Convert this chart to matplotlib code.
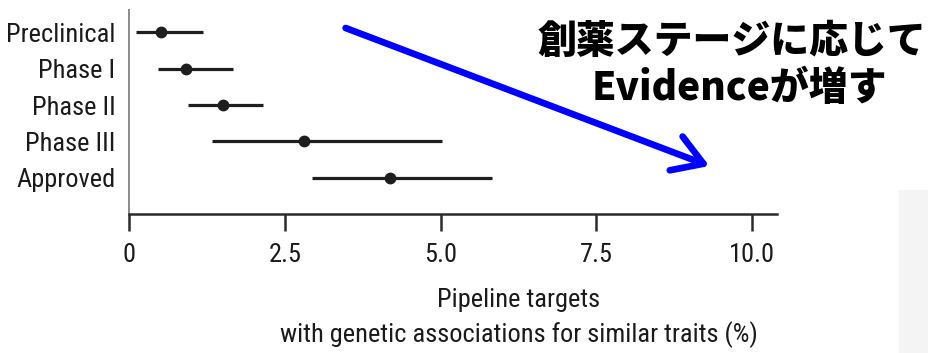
import matplotlib
matplotlib.use("Agg")
import matplotlib.pyplot as plt
from matplotlib.patches import Rectangle, FancyArrowPatch

# Pipeline stages and proportion of targets with genetic support (%)
stages = ["Preclinical", "Phase I", "Phase II", "Phase III", "Approved"]
estimate = [0.50, 0.90, 1.50, 2.80, 4.19]
ci_low = [0.10, 0.45, 0.94, 1.32, 2.93]
ci_high = [1.18, 1.67, 2.15, 5.02, 5.83]
xticks = [0, 2.5, 5.0, 7.5, 10.0]
xtick_labels = ["0", "2.5", "5.0", "7.5", "10.0"]

plt.rcParams["font.family"] = ["Roboto Condensed", "DejaVu Sans"]

W, H = 929, 353
fig = plt.figure(figsize=(W / 100, H / 100), dpi=100)

# light panel at the right edge
fig.patches.append(Rectangle((899 / W, 0), 30 / W, (353 - 190) / H,
                             transform=fig.transFigure, color="#f4f4f4", zorder=0))

ax = fig.add_axes([129.5 / W, (353 - 214.3) / H, (776.7 - 129.5) / W, (214.3 - 10) / H])
ax.set_facecolor("none")

ypos = [5, 4, 3, 2, 1]
ink = "#1e1e1e"
ax.hlines(ypos, ci_low, ci_high, color=ink, lw=2.3, zorder=2)
ax.plot(estimate, ypos, "o", color=ink, ms=7.5, zorder=3)

ax.set_xlim(0, 10.4)
ax.set_ylim(0, 5.61)
ax.set_yticks(ypos)
ax.set_yticklabels(stages)
ax.set_xticks(xticks)
ax.set_xticklabels(xtick_labels)

for s in ["top", "right"]:
    ax.spines[s].set_visible(False)
ax.spines["left"].set_color("#8a8a8a")
ax.spines["left"].set_linewidth(1.4)
ax.spines["bottom"].set_color("#2a2a2a")
ax.spines["bottom"].set_linewidth(1.8)

txt = "#1a1a1a"
fs = 19
ax.tick_params(axis="y", length=0, pad=10, labelsize=fs, labelcolor=txt)
ax.tick_params(axis="x", length=12, width=1.8, color="#2a2a2a", pad=9,
               labelsize=fs, labelcolor=txt)

fig.text(519 / W, 1 - 300 / H, "Pipeline targets", ha="center", va="center",
         fontsize=fs, color=txt)
fig.text(519 / W, 1 - 335 / H, "with genetic associations for similar traits (%)",
         ha="center", va="center", fontsize=fs, color=txt)

# annotation: arrow and heading
arrow = FancyArrowPatch((343 / W, 1 - 27 / H), (712 / W, 1 - 167 / H),
                        transform=fig.transFigure, arrowstyle="->,head_length=10.5,head_width=6.5",
                        color="#0000ff", lw=4.8, mutation_scale=2, zorder=5)
fig.patches.append(arrow)

jp = ["Noto Sans CJK JP", "DejaVu Sans"]
fig.text(732 / W, 1 - 41 / H, "創薬ステージに応じて", ha="center", va="center",
         fontsize=28, fontweight="black", family=jp, color="black")
fig.text(739 / W, 1 - 88 / H, "Evidenceが増す", ha="center", va="center",
         fontsize=28, fontweight="black", family=jp, color="black")

fig.savefig("out.png", dpi=100)
